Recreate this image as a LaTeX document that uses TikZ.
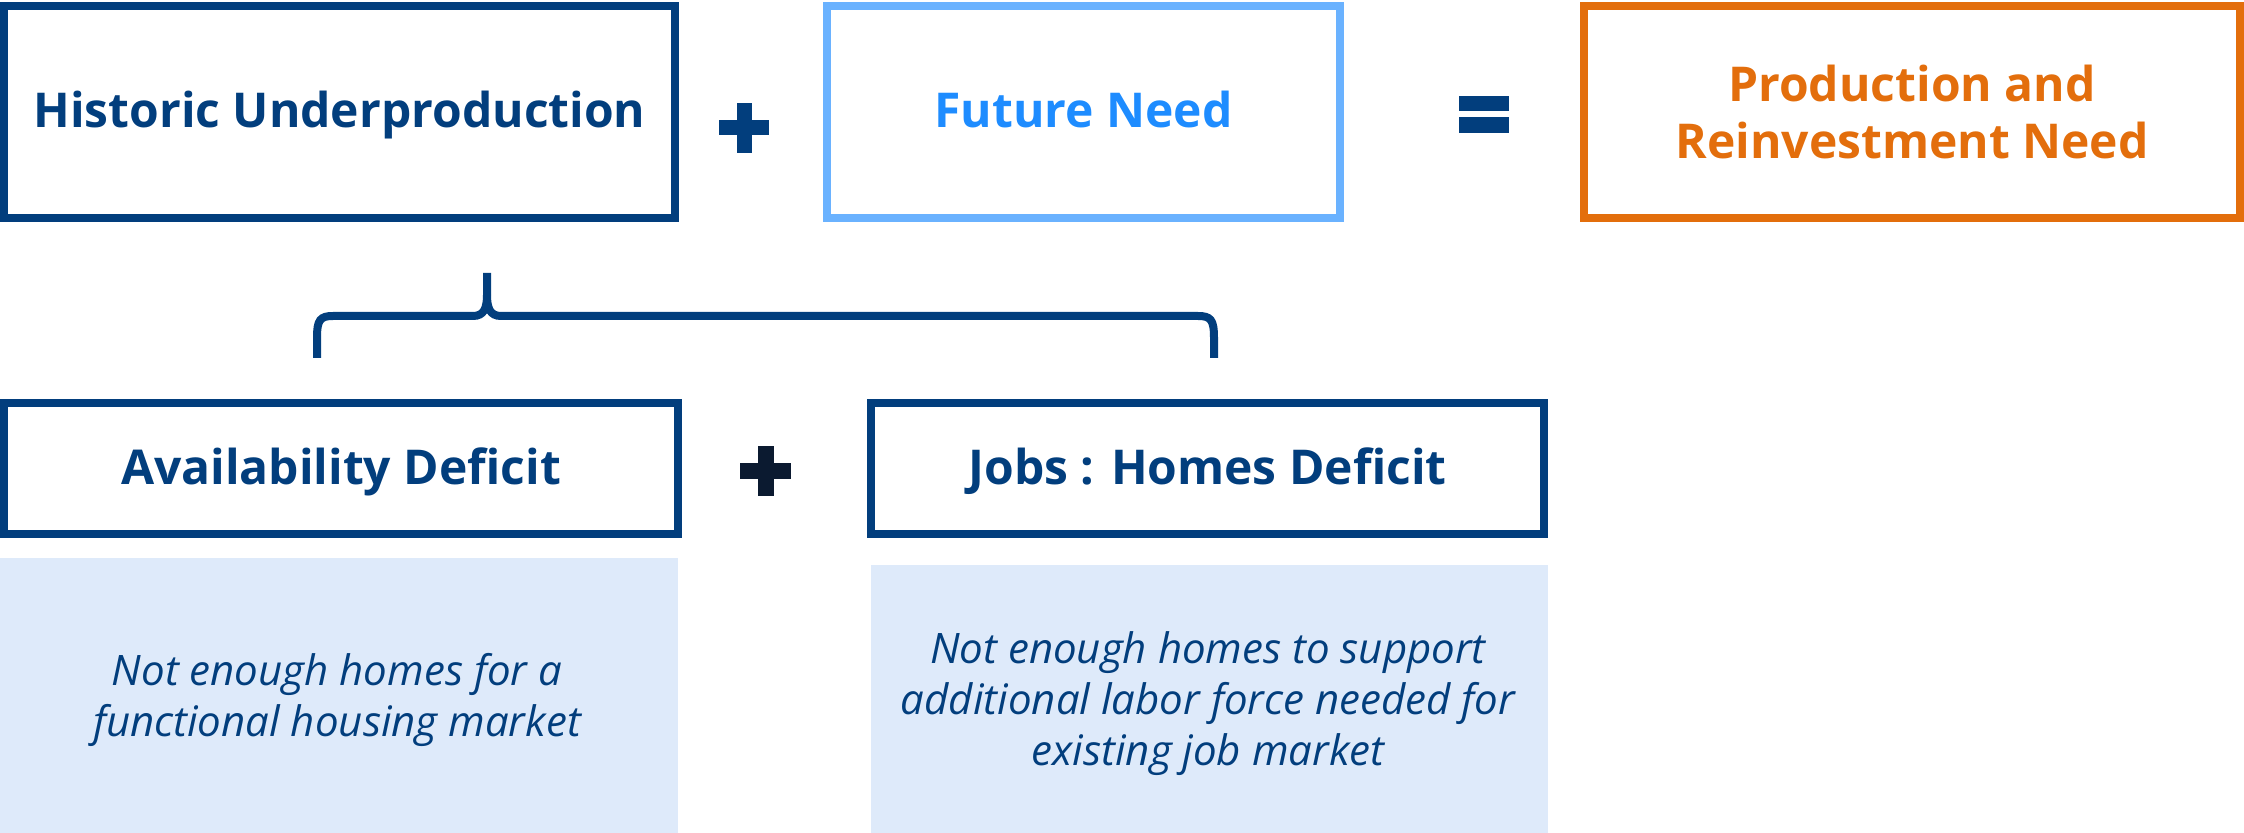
\documentclass[tikz,border=0pt]{standalone}
\usepackage{fontspec}
\setmainfont{Open Sans}
\definecolor{navy}{HTML}{023E7D}
\definecolor{skyline}{HTML}{6AB2FF}
\definecolor{skytext}{HTML}{1E8CFF}
\definecolor{orangeline}{HTML}{E36E0C}
\definecolor{inkdark}{HTML}{0B1A30}
\definecolor{notefill}{HTML}{DEEAFA}
\begin{document}
\begin{tikzpicture}[x=0.5pt,y=-0.5pt,
  framebox/.style={draw, line width=4pt, inner sep=0pt, align=center,
    font=\bfseries\fontsize{24}{28.5}\selectfont},
  notebox/.style={fill=notefill, inner sep=0pt, text=navy, align=center,
    font=\itshape\fontsize{21}{25.5}\selectfont}]
\useasboundingbox (0,0) rectangle (2244,833);

% top row: the equation
\node[framebox, draw=navy, text=navy, minimum width=335.5pt, minimum height=106pt,
  text height=18pt, text depth=2pt] (hist) at (339.5,112) {Historic Underproduction};
\node[framebox, draw=skyline, text=skytext, minimum width=256.5pt, minimum height=106pt,
  text height=18pt, text depth=2pt] (future) at (1083.5,112) {Future Need};
\node[framebox, draw=orangeline, text=orangeline, minimum width=328pt, minimum height=106pt]
  (prod) at (1912,112) {Production and\\Reinvestment Need};

% plus between the first two boxes
\coordinate (plusA) at (744,128);
\fill[navy] ([xshift=-12.5pt,yshift=3.75pt]plusA) rectangle ([xshift=12.5pt,yshift=-3.75pt]plusA);
\fill[navy] ([xshift=-3.75pt,yshift=12.5pt]plusA) rectangle ([xshift=3.75pt,yshift=-12.5pt]plusA);

% equals sign
\coordinate (eqA) at (1484,114.5);
\fill[navy] ([xshift=-12.5pt,yshift=9pt]eqA) rectangle ([xshift=12.5pt,yshift=1.5pt]eqA);
\fill[navy] ([xshift=-12.5pt,yshift=-1.5pt]eqA) rectangle ([xshift=12.5pt,yshift=-9.25pt]eqA);

% brace below the first box
\coordinate (stubtop) at (487,273);
\coordinate (braceL) at (317,358);
\coordinate (braceR) at (1214,358);
\draw[navy, line width=4pt]
  (braceL) -- (317,338) .. controls (317,320) and (320,316) .. (333,316)
  -- (473,316) .. controls (484,316) and (487,308) .. (487,295) -- (stubtop);
\draw[navy, line width=4pt]
  (braceR) -- (1214,338) .. controls (1214,320) and (1211,316) .. (1198,316)
  -- (501,316) .. controls (490,316) and (487,308) .. (487,295);

% second row
\node[framebox, draw=navy, text=navy, minimum width=337pt, minimum height=65.5pt,
  text height=18pt, text depth=2pt] (avail) at (341,468.5) {Availability Deficit};
\node[framebox, draw=navy, text=navy, minimum width=336.5pt, minimum height=65.5pt,
  text height=18pt, text depth=2pt] (jobs) at (1207.5,468.5) {Jobs : Homes Deficit};

% plus between the deficits
\coordinate (plusB) at (765.5,471);
\fill[inkdark] ([xshift=-12.75pt,yshift=4pt]plusB) rectangle ([xshift=12.75pt,yshift=-4pt]plusB);
\fill[inkdark] ([xshift=-4pt,yshift=12.5pt]plusB) rectangle ([xshift=4pt,yshift=-12.5pt]plusB);

% explanatory panels
\node[notebox, minimum width=339pt, minimum height=137.5pt] (availnote) at (339,695.5) {};
\node[notebox, minimum width=338.5pt, minimum height=134pt] (jobsnote) at (1209.5,699) {};
\node[notebox, fill=none] (availtext) at (337,700) {Not enough homes for a\\functional housing market};
\node[notebox, fill=none] (jobstext) at (1208,703.5) {Not enough homes to support\\additional labor force needed for\\existing job market};
\end{tikzpicture}
\end{document}
